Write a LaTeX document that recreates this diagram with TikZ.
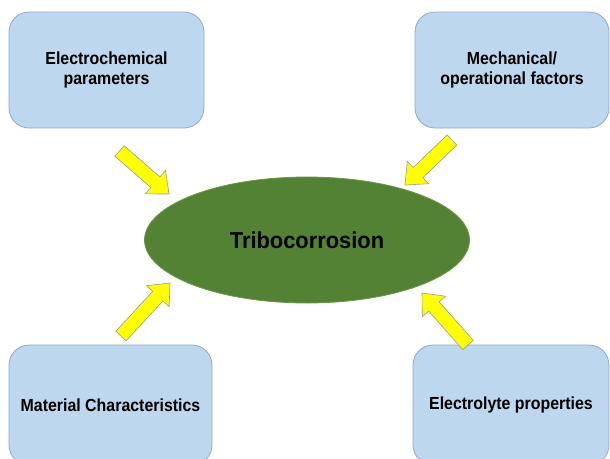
\documentclass[tikz,border=0pt]{standalone}
\usepackage{fontspec}
\setmainfont{Liberation Sans}
\usetikzlibrary{calc,shapes.geometric}
\definecolor{boxfill}{HTML}{BDD7EE}
\definecolor{boxline}{HTML}{8FAACB}
\definecolor{ellfill}{HTML}{548235}
\definecolor{ellline}{HTML}{6A9A45}
\definecolor{arrfill}{HTML}{FFFF00}
\definecolor{arrline}{HTML}{9A9A9A}
\newcommand\nt[1]{\scalebox{0.91}[1]{#1}}
\newcommand\ntb[1]{\scalebox{0.95}[1]{#1}}
\tikzset{
  factor/.style={draw=boxline, fill=boxfill, line width=0.8pt, rounded corners=20pt,
    align=center, font=\bfseries\fontsize{17.5}{20}\selectfont, inner sep=0pt},
  centre/.style={draw=ellline, fill=ellfill, ellipse, line width=0.8pt,
    minimum width=325pt, minimum height=126pt, inner sep=0pt,
    font=\bfseries\fontsize{23}{27}\selectfont},
  blockarr/.style={draw=arrline, fill=arrfill, line width=0.6pt, line join=miter}
}
\newcommand\blockarrow[2]{%
  \coordinate (hb) at ($(#2)!18pt!(#1)$);
  \draw[blockarr] ($(#1)!7pt!90:(#2)$) -- ($(hb)!7pt!-90:(#1)$) -- ($(hb)!15.5pt!-90:(#1)$)
    -- (#2) -- ($(hb)!15.5pt!90:(#1)$) -- ($(hb)!7pt!90:(#1)$) -- ($(#1)!7pt!-90:(#2)$) -- cycle;}
\begin{document}
\begin{tikzpicture}[x=1pt,y=-1pt]
\useasboundingbox (0,0) rectangle (610,458);
\fill[white] (0,0) rectangle (610,458);
\clip (0,0) rectangle (610,458);
\node[factor, minimum width=195pt, minimum height=116pt] (ec) at (106.5,70) {\nt{Electrochemical}\\\nt{parameters}};
\node[factor, minimum width=194pt, minimum height=116pt] (mo) at (512,70) {\nt{Mechanical/}\\\nt{operational factors}};
\node[factor, minimum width=203pt, minimum height=120pt] (mc) at (110.5,405) {\nt{Material Characteristics}};
\node[factor, minimum width=196pt, minimum height=120pt] (el) at (511,405) {\nt{Electrolyte properties}};
\node[centre] (tc) at (307,240) {\ntb{Tribocorrosion}};
\coordinate (t1) at (119.5,151); \coordinate (p1) at (169,194);
\coordinate (t2) at (452,140);   \coordinate (p2) at (405,185);
\coordinate (t3) at (121,336);   \coordinate (p3) at (170,283);
\coordinate (t4) at (468,345);   \coordinate (p4) at (422,293);
\blockarrow{t1}{p1}
\blockarrow{t2}{p2}
\blockarrow{t3}{p3}
\blockarrow{t4}{p4}
\end{tikzpicture}
\end{document}
